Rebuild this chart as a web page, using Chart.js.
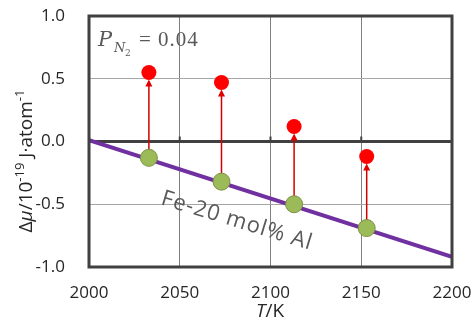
<!DOCTYPE html>
<html>
<head>
<meta charset="utf-8">
<script src="https://cdn.jsdelivr.net/npm/chart.js@4.4.0/dist/chart.umd.min.js"></script>
<style>
  html, body { margin: 0; padding: 0; background: #ffffff; }
  #wrap { width: 475px; height: 325px; }
</style>
</head>
<body>
<div id="wrap"><canvas id="grafico" width="475" height="325"></canvas></div>
<script>
// temperaturas (K) e Δμ (10^-19 J/atom)
var temperaturas = [2033, 2073, 2113, 2153];
var muLiga = [-0.13, -0.32, -0.50, -0.69];
var muNitreto = [0.55, 0.47, 0.12, -0.12];
var linhaT = [2000, 2200];
var linhaMu = [0.01, -0.92];
var ticksX = [2000, 2050, 2100, 2150, 2200];
var ticksY = [-1.0, -0.5, 0.0, 0.5, 1.0];

var corTexto = '#262626';
var corAnot = '#595959';
var fonteBase = '"Open Sans", "Noto Sans", sans-serif';

// desenha texto com partes de fontes diferentes
function textoRico(ctx, partes, x, y) {
    var total = 0;
    partes.forEach(function (p) {
        ctx.font = p.font;
        total += ctx.measureText(p.t).width;
    });
    var cx = x - total / 2;
    partes.forEach(function (p) {
        ctx.font = p.font;
        ctx.fillText(p.t, cx, y + (p.dy || 0));
        cx += ctx.measureText(p.t).width;
    });
}

var moldura = {
    id: 'moldura',
    beforeDatasetsDraw: function (chart) {
        var ctx = chart.ctx;
        var sx = chart.scales.x, sy = chart.scales.y;
        ctx.save();
        // pequenos ticks sobre a linha zero
        ctx.strokeStyle = '#404040';
        ctx.lineWidth = 2;
        var y0 = sy.getPixelForValue(0);
        ticksX.slice(1, -1).forEach(function (t) {
            var px = sx.getPixelForValue(t);
            ctx.beginPath();
            ctx.moveTo(px, y0);
            ctx.lineTo(px, y0 - 5);
            ctx.stroke();
        });
        // setas
        ctx.strokeStyle = '#d00000';
        ctx.fillStyle = '#e00000';
        ctx.lineWidth = 1.5;
        for (var i = 0; i < temperaturas.length; i++) {
            var px = sx.getPixelForValue(temperaturas[i]);
            var yA = sy.getPixelForValue(muLiga[i]);
            var yB = sy.getPixelForValue(muNitreto[i]) + 7;
            ctx.beginPath();
            ctx.moveTo(px, yA);
            ctx.lineTo(px, yB + 5);
            ctx.stroke();
            ctx.beginPath();
            ctx.moveTo(px, yB);
            ctx.lineTo(px - 3.5, yB + 7);
            ctx.lineTo(px + 3.5, yB + 7);
            ctx.closePath();
            ctx.fill();
        }
        ctx.restore();
    },
    afterDatasetsDraw: function (chart) {
        var ctx = chart.ctx;
        var a = chart.chartArea;
        ctx.save();
        ctx.strokeStyle = '#404040';
        ctx.lineWidth = 3;
        ctx.strokeRect(a.left, a.top, a.right - a.left, a.bottom - a.top);
        ctx.restore();
    },
    afterDraw: function (chart) {
        var ctx = chart.ctx;
        ctx.save();
        ctx.textBaseline = 'alphabetic';
        ctx.textAlign = 'left';
        // P_N2 = 0.04
        ctx.fillStyle = corAnot;
        ctx.font = 'italic 21px "DejaVu Serif", serif';
        ctx.fillText('P', 98, 46);
        ctx.font = 'italic 13px "DejaVu Serif", serif';
        ctx.fillText('N', 114, 52);
        ctx.font = '9px "DejaVu Serif", serif';
        ctx.fillText('2', 125, 56);
        ctx.font = '21px "Liberation Serif", serif';
        ctx.fillText('=', 139, 46);
        ctx.letterSpacing = '1px';
        ctx.fillText('0.04', 158, 46);
        ctx.letterSpacing = '0px';

        // Fe-20 mol% Al
        ctx.save();
        ctx.translate(237, 221);
        ctx.rotate(17 * Math.PI / 180);
        ctx.textAlign = 'center';
        ctx.textBaseline = 'middle';
        ctx.font = '22px ' + fonteBase;
        ctx.letterSpacing = '1px';
        ctx.fillText('Fe-20 mol% Al', 0, 0);
        ctx.letterSpacing = '0px';
        ctx.restore();

        // titulo eixo X
        ctx.fillStyle = corTexto;
        ctx.textBaseline = 'alphabetic';
        textoRico(ctx, [
            { t: 'T', font: 'italic 19px ' + fonteBase },
            { t: '/K', font: '19px ' + fonteBase }
        ], 270, 317);

        // titulo eixo Y
        ctx.save();
        ctx.translate(32, 161);
        ctx.rotate(-Math.PI / 2);
        textoRico(ctx, [
            { t: 'Δ', font: '19px ' + fonteBase },
            { t: 'μ', font: 'italic 19px ' + fonteBase },
            { t: '/10', font: '19px ' + fonteBase },
            { t: '-19', font: '13px ' + fonteBase, dy: -8 },
            { t: ' J·atom', font: '19px ' + fonteBase },
            { t: '-1', font: '13px ' + fonteBase, dy: -8 }
        ], 0, 0);
        ctx.restore();
        ctx.restore();
    }
};

var grafico = document.getElementById('grafico').getContext('2d');
var criarGrafico = new Chart(grafico, {
    type: 'scatter',
    data: {
        datasets: [{
            label: 'nitreto',
            data: temperaturas.map(function (t, i) { return { x: t, y: muNitreto[i] }; }),
            backgroundColor: '#ff0000',
            borderColor: '#ff0000',
            borderWidth: 0,
            pointRadius: 7.5,
            order: 1
        }, {
            label: 'liga',
            data: temperaturas.map(function (t, i) { return { x: t, y: muLiga[i] }; }),
            backgroundColor: '#9bbb59',
            borderColor: '#7d8f45',
            borderWidth: 1,
            pointRadius: 8.5,
            order: 2
        }, {
            label: 'Fe-20 mol% Al',
            type: 'line',
            data: linhaT.map(function (t, i) { return { x: t, y: linhaMu[i] }; }),
            borderColor: '#7030a0',
            borderWidth: 4,
            pointRadius: 0,
            fill: false,
            order: 3
        }]
    },
    options: {
        responsive: false,
        animation: false,
        layout: { padding: { left: 0, top: 16, right: 23, bottom: 0 } },
        plugins: {
            legend: { display: false },
            tooltip: { enabled: false }
        },
        scales: {
            x: {
                type: 'linear',
                min: 2000,
                max: 2200,
                afterFit: function (s) {
                    s.height = 58;
                    s.paddingLeft = 0; s.paddingRight = 0;
                    s.paddingTop = 0; s.paddingBottom = 0;
                },
                afterBuildTicks: function (s) { s.ticks = ticksX.map(function (v) { return { value: v }; }); },
                ticks: {
                    padding: 16,
                    color: corTexto,
                    font: { family: fonteBase, size: 17 },
                    callback: function (v) { return v; }
                },
                grid: {
                    drawTicks: false,
                    color: '#808080',
                    lineWidth: 1
                },
                border: { display: false }
            },
            y: {
                min: -1,
                max: 1,
                afterFit: function (s) {
                    s.width = 89;
                    s.paddingLeft = 0; s.paddingRight = 0;
                    s.paddingTop = 0; s.paddingBottom = 0;
                },
                afterBuildTicks: function (s) { s.ticks = ticksY.map(function (v) { return { value: v }; }); },
                ticks: {
                    padding: 24,
                    color: corTexto,
                    font: { family: fonteBase, size: 17 },
                    callback: function (v) { return v.toFixed(1); }
                },
                grid: {
                    drawTicks: false,
                    color: function (c) { return c.tick && c.tick.value === 0 ? '#404040' : '#a6a6a6'; },
                    lineWidth: function (c) { return c.tick && c.tick.value === 0 ? 3 : 1; }
                },
                border: { display: false }
            }
        }
    },
    plugins: [moldura]
});
</script>
</body>
</html>
